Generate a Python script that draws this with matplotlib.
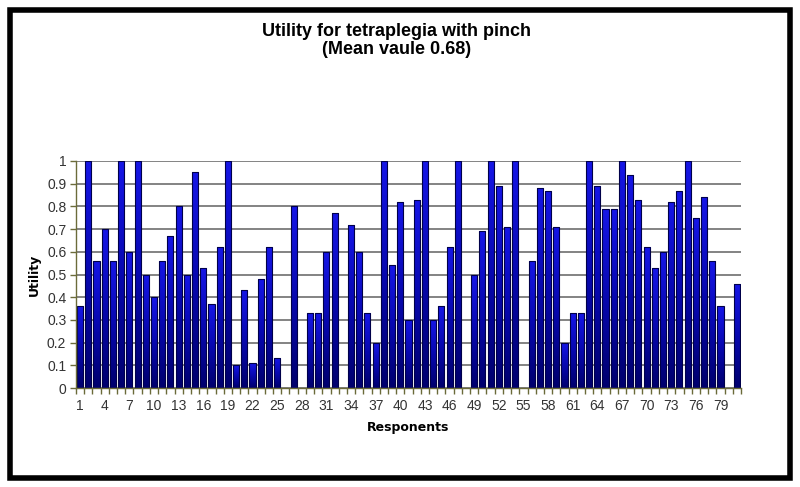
import matplotlib
matplotlib.use("Agg")
import matplotlib.pyplot as plt
from matplotlib.patches import Rectangle
from matplotlib.colors import LinearSegmentedColormap
import numpy as np

respondents = list(range(1, 82))
utility = [0.36, 1.0, 0.56, 0.70, 0.56, 1.0, 0.60, 1.0, 0.50, 0.40,
           0.56, 0.67, 0.80, 0.50, 0.95, 0.53, 0.37, 0.62, 1.0, 0.10,
           0.43, 0.11, 0.48, 0.62, 0.13, 0.0, 0.80, 0.0, 0.33, 0.33,
           0.60, 0.77, 0.0, 0.72, 0.60, 0.33, 0.20, 1.0, 0.54, 0.82,
           0.30, 0.83, 1.0, 0.30, 0.36, 0.62, 1.0, 0.0, 0.50, 0.69,
           1.0, 0.89, 0.71, 1.0, 0.0, 0.56, 0.88, 0.87, 0.71, 0.20,
           0.33, 0.33, 1.0, 0.89, 0.79, 0.79, 1.0, 0.94, 0.83, 0.62,
           0.53, 0.60, 0.82, 0.87, 1.0, 0.75, 0.84, 0.56, 0.36, 0.0,
           0.46]
tick_labels = [str(i) for i in range(1, 80, 3)]
yticks = [0, 0.1, 0.2, 0.3, 0.4, 0.5, 0.6, 0.7, 0.8, 0.9, 1]
ytick_labels = ["0", "0.1", "0.2", "0.3", "0.4", "0.5", "0.6", "0.7", "0.8", "0.9", "1"]

fig = plt.figure(figsize=(8, 4.87), dpi=100)
fig.patch.set_facecolor("white")

# outer frame
fig.patches.append(Rectangle((9.5/800, 9.5/487), (790-9.5)/800, (477-9.5)/487,
                             transform=fig.transFigure, fill=False,
                             edgecolor="black", linewidth=4, zorder=10))

ax = fig.add_axes([76/800, (487-388)/487, (741-76)/800, (388-161)/487])
bars = ax.bar(respondents, utility, width=0.74, facecolor="#0c0cc4",
              edgecolor="#00004a", linewidth=0.8, zorder=3)

cmap = LinearSegmentedColormap.from_list("blu", ["#00006e", "#0808b0", "#1616e6"])
grad = np.linspace(0, 1, 64).reshape(-1, 1)
for b in bars:
    h = b.get_height()
    if h <= 0:
        continue
    x0 = b.get_x()
    w = b.get_width()
    im = ax.imshow(grad, extent=[x0, x0 + w, 0, h], origin="lower", cmap=cmap,
                   aspect="auto", zorder=3.5, interpolation="bilinear")
    im.set_clip_path(b)
    b.set_facecolor("none")
    b.set_zorder(4)

ax.set_xlim(0.5, 81.5)
ax.set_ylim(0, 1)
ax.set_yticks(yticks)
ax.set_yticklabels(ytick_labels, fontfamily="Liberation Sans", fontsize=10, color="#333333")
ax.set_xticks(range(1, 80, 3))
ax.set_xticklabels(tick_labels, fontfamily="Liberation Sans", fontsize=10, color="#333333")
ax.set_xticks(np.arange(0.5, 82, 1), minor=True)
ax.tick_params(axis="x", which="major", length=0, pad=8)
ax.tick_params(axis="x", which="minor", length=4, color="#6b6b3a", width=1)
ax.tick_params(axis="y", length=4, color="#6b6b3a", width=1, pad=3)
ax.yaxis.grid(True, color="#7a7a7a", linewidth=1.3, zorder=0)
ax.set_axisbelow(True)
for s in ["top", "right"]:
    ax.spines[s].set_visible(False)
ax.spines["left"].set_color("#6b6b3a")
ax.spines["bottom"].set_color("#6b6b3a")
ax.spines["left"].set_linewidth(1)
ax.spines["bottom"].set_linewidth(1)
ax.spines["left"].set_zorder(5)
ax.spines["bottom"].set_zorder(5)

ax.set_xlabel("Responents", fontfamily="DejaVu Sans", fontweight="bold", fontsize=9, labelpad=6)
ax.set_ylabel("Utility", fontfamily="DejaVu Sans", fontweight="bold", fontsize=9, labelpad=4)

fig.text(397/800, 1 - 31/487, "Utility for tetraplegia with pinch", ha="center", va="center",
         fontfamily="Liberation Sans", fontweight="bold", fontsize=13)
fig.text(397/800, 1 - 49/487, "(Mean vaule 0.68)", ha="center", va="center",
         fontfamily="Liberation Sans", fontweight="bold", fontsize=13)

fig.savefig("out.png", dpi=100)
